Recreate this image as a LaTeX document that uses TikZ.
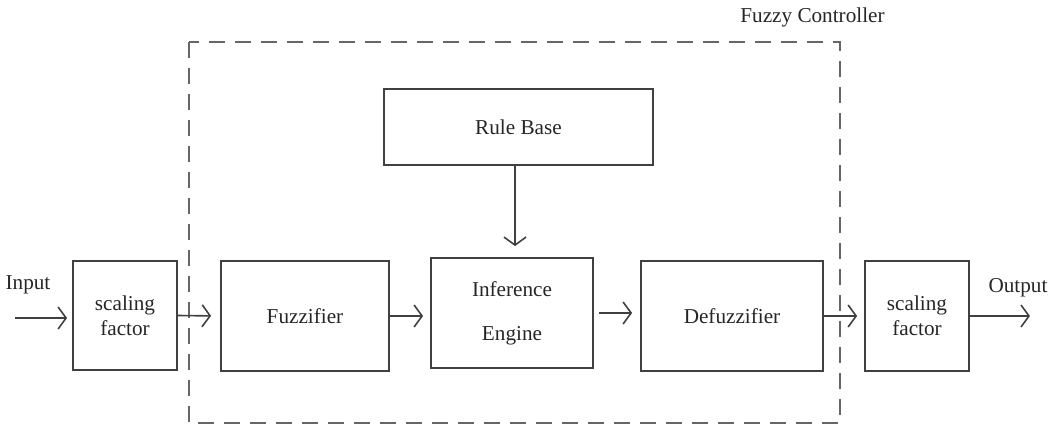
\documentclass[tikz,border=0pt]{standalone}
\usepackage{fontspec}
\setmainfont{Liberation Serif}
\usetikzlibrary{arrows.meta,positioning}
\definecolor{linegray}{gray}{0.25}
\definecolor{dashgray}{gray}{0.4}
\definecolor{textgray}{gray}{0.15}
\tikzset{
    blockbox/.style={draw=linegray,line width=0.9pt,rectangle,align=center,text=textgray,
        font=\fontsize{10.6}{12.5}\selectfont,inner sep=0pt},
    flowarrow/.style={draw=linegray,line width=0.8pt,-{Straight Barb[length=4pt,width=11pt,line width=0.8pt]}},
    ctrlframe/.style={draw=dashgray,line width=1pt,dash pattern=on 8pt off 5pt},
    plainlabel/.style={text=textgray,font=\fontsize{10.6}{12.5}\selectfont,inner sep=0pt}
}
\begin{document}
\begin{tikzpicture}[x=0.5pt,y=-0.5pt]
    \useasboundingbox (0,0) rectangle (1058,426);

    % the controller frame
    \draw[ctrlframe] (189,42) rectangle (840,423);
    \node[plainlabel] (ctrl) at (812.5,17) {Fuzzy Controller};

    % blocks
    \node[blockbox,minimum width=52pt,minimum height=54.5pt] (sfin) at (125,315.5) {scaling\\factor};
    \node[blockbox,minimum width=84pt,minimum height=55pt] (fuzz) at (305,316) {Fuzzifier};
    \node[blockbox,minimum width=81pt,minimum height=55pt] (infer) at (512,313) {Inference\\[9.5pt]Engine};
    \node[blockbox,minimum width=91pt,minimum height=55pt] (defuzz) at (732,316) {Defuzzifier};
    \node[blockbox,minimum width=52pt,minimum height=55pt] (sfout) at (917,316) {scaling\\factor};
    \node[blockbox,minimum width=134.5pt,minimum height=38pt] (rules) at (518.5,127) {Rule Base};

    % input and output
    \coordinate (in) at (15,318);
    \coordinate (out) at (1030,316);
    \node[plainlabel] (inlabel) at (28,285) {Input};
    \node[plainlabel] (outlabel) at (1018,288) {Output};

    % connectors
    \draw[flowarrow,shorten >=2.5pt] (in) -- (in -| sfin.west);
    \draw[flowarrow,shorten >=4.5pt] (sfin.east) -- (fuzz.west);
    \draw[flowarrow,shorten >=3.5pt] (fuzz.east) -- (fuzz.east -| infer.west);
    \draw[flowarrow,shorten <=2.5pt,shorten >=4pt] (infer.east) -- (infer.east -| defuzz.west);
    \draw[flowarrow,shorten >=3.5pt] (defuzz.east) -- (sfout.west);
    \draw[flowarrow] (sfout.east) -- (sfout.east -| out);
    \draw[flowarrow,shorten >=5.5pt] (rules.south -| 515,0) -- (infer.north -| 515,0);

\end{tikzpicture}
\end{document}
